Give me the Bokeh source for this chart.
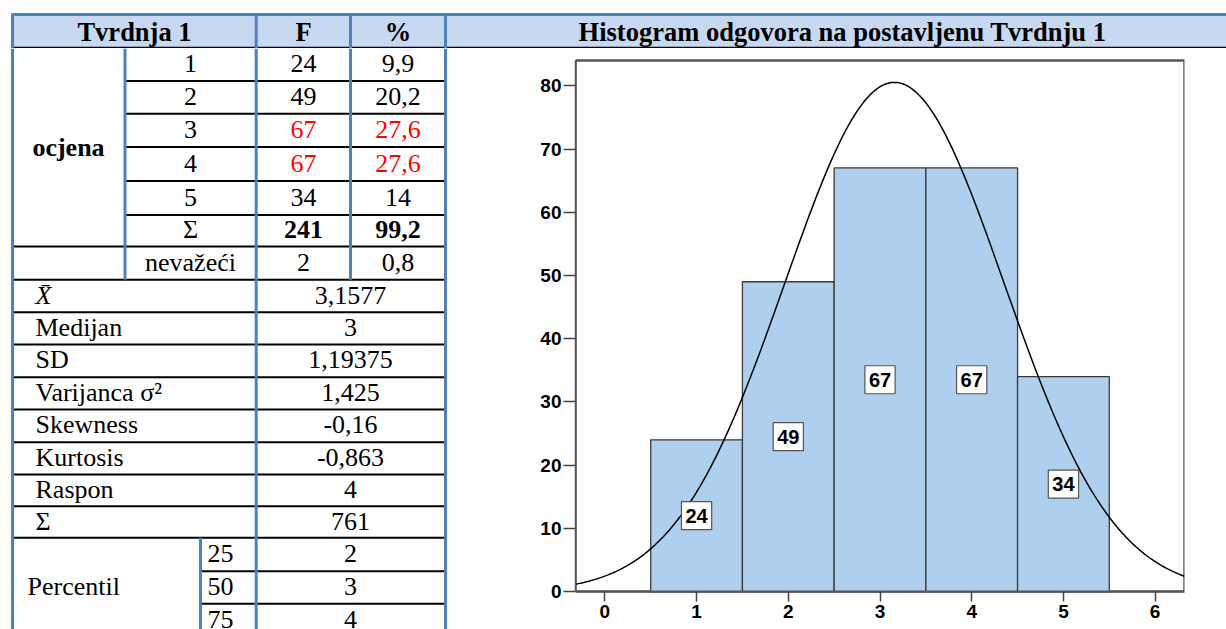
import numpy as np
from bokeh.plotting import figure
from bokeh.models import Range1d, Label, FixedTicker
from bokeh.layouts import column, row
from bokeh.embed import file_html
from bokeh.resources import INLINE
from bokeh.core.properties import value

# ---------------- data ----------------
header_left = ["Tvrdnja 1", "F", "%"]
hist_title = "Histogram odgovora na postavljenu Tvrdnju 1"
group_label = "ocjena"
grades = ["1", "2", "3", "4", "5"]
grade_values = [1, 2, 3, 4, 5]
freq = [24, 49, 67, 67, 34]
pct = ["9,9", "20,2", "27,6", "27,6", "14"]
highlight = [False, False, True, True, False]
sum_label = "Σ"
sum_freq = "241"
sum_pct = "99,2"
invalid_label = "nevažeći"
invalid_freq = "2"
invalid_pct = "0,8"
mean_label = "X̄"
stat_labels = ["Medijan", "SD", "Varijanca σ²", "Skewness", "Kurtosis", "Raspon", "Σ"]
stat_values = ["3,1577", "3", "1,19375", "1,425", "-0,16", "-0,863", "4", "761"]
percentile_label = "Percentil"
percentiles = ["25", "50", "75"]
percentile_values = ["2", "3", "4"]
mean = 3.1577
sd = 1.19375
y_label = "Frekvencija"
y_ticks = [0, 10, 20, 30, 40, 50, 60, 70, 80]
x_ticks = [0, 1, 2, 3, 4, 5, 6]

# ---------------- style ----------------
BLUE = "#4f81bd"
HEAD = "#c6d9f1"
BAR = "#aecfed"
SERIF = value("Liberation Serif")
TFS = value("26px")
HFS = value("26.5px")
W, H = 1226, 629
HEAD_H = 48
SPLIT = 448


def blank(w, h, xr, yr):
    p = figure(width=w, height=h, x_range=Range1d(*xr), y_range=Range1d(*yr),
               output_backend="svg", toolbar_location=None,
               x_axis_type=None, y_axis_type=None, min_border=0)
    p.outline_line_color = None
    p.background_fill_color = "white"
    p.border_fill_color = "white"
    return p


# ---------------- header band ----------------
hdr = blank(W, HEAD_H, (0, W), (HEAD_H, 0))
hdr.quad(left=12, right=W, top=14, bottom=47.7, fill_color=HEAD, line_color=None)
hdr.segment(x0=[12], y0=[14], x1=[W], y1=[14], line_color=BLUE, line_width=3)
hdr.segment(x0=[12], y0=[47.2], x1=[W], y1=[47.2], line_color="black", line_width=2)
vx = [12, 255.7, 350, 445]
hdr.segment(x0=vx, y0=[13] * 4, x1=vx, y1=[48] * 4, line_color=BLUE, line_width=3)
hdr.text(x=[134, 303, 397.5, 842], y=[31.5] * 4,
         text=header_left + [hist_title],
         text_font=SERIF, text_font_size=HFS, text_font_style="bold",
         text_align="center", text_baseline="middle", text_color="black")

# ---------------- table body ----------------
tbl = blank(SPLIT, H - HEAD_H, (0, SPLIT), (H, HEAD_H))
g_edges = [47.7, 80.5, 113.3, 146.5, 180.5, 214.5, 246]
s_edges = [246, 279.3, 311.7, 344, 376.7, 409, 441.7, 474, 505.7, 537.3]
p_edges = [537.3, 570.7, 603.3, 636]

hy_part = g_edges[1:-1]
tbl.segment(x0=[124.5] * len(hy_part), y0=hy_part, x1=[445] * len(hy_part), y1=hy_part,
            line_color="black", line_width=2)
tbl.segment(x0=[12] * len(s_edges), y0=s_edges, x1=[445] * len(s_edges), y1=s_edges,
            line_color="black", line_width=2)
tbl.segment(x0=[200, 200], y0=p_edges[1:3], x1=[445, 445], y1=p_edges[1:3],
            line_color="black", line_width=2)
tbl.segment(x0=[12, 124.5, 255.7, 350, 445, 200],
            y0=[48, 48, 48, 48, 48, 537.3],
            x1=[12, 124.5, 255.7, 350, 445, 200],
            y1=[H, 279.3, H, 279.3, H, H],
            line_color=BLUE, line_width=3)


def mids(e):
    return [(e[i] + e[i + 1]) / 2 - 1 for i in range(len(e) - 1)]


gm = mids(g_edges)
sm = mids(s_edges)
pm = mids(p_edges)

col_f = ["red" if h else "black" for h in highlight]
tbl.text(x=[190] * 7, y=gm + [sm[0]], text=grades + [sum_label, invalid_label],
         text_font=SERIF, text_font_size=TFS, text_align="center", text_baseline="middle",
         text_color="black")
tbl.text(x=[303] * 5 + [397.5] * 5, y=gm[:5] * 2, text=[str(v) for v in freq] + pct,
         text_color=col_f * 2, text_font=SERIF, text_font_size=TFS,
         text_align="center", text_baseline="middle")
tbl.text(x=[303, 397.5], y=[gm[5]] * 2, text=[sum_freq, sum_pct],
         text_font=SERIF, text_font_size=TFS, text_font_style="bold",
         text_align="center", text_baseline="middle", text_color="black")
tbl.text(x=[303, 397.5], y=[sm[0]] * 2, text=[invalid_freq, invalid_pct],
         text_font=SERIF, text_font_size=TFS,
         text_align="center", text_baseline="middle", text_color="black")
tbl.text(x=[68], y=[(g_edges[0] + g_edges[-1]) / 2], text=[group_label],
         text_font=SERIF, text_font_size=TFS, text_font_style="bold",
         text_align="center", text_baseline="middle", text_color="black")
tbl.text(x=[35], y=[sm[1]], text=[mean_label], text_font=SERIF, text_font_size=TFS,
         text_font_style="italic", text_align="left", text_baseline="middle",
         text_color="black")
tbl.text(x=[35] * len(stat_labels), y=sm[2:], text=stat_labels, text_font=SERIF,
         text_font_size=TFS, text_align="left", text_baseline="middle", text_color="black")
tbl.text(x=[350] * len(stat_values), y=sm[1:], text=stat_values, text_font=SERIF,
         text_font_size=TFS, text_align="center", text_baseline="middle", text_color="black")
tbl.text(x=[27], y=[pm[1]], text=[percentile_label], text_font=SERIF, text_font_size=TFS,
         text_align="left", text_baseline="middle", text_color="black")
tbl.text(x=[207] * 3, y=pm, text=percentiles, text_font=SERIF, text_font_size=TFS,
         text_align="left", text_baseline="middle", text_color="black")
tbl.text(x=[350] * 3, y=pm, text=percentile_values, text_font=SERIF, text_font_size=TFS,
         text_align="center", text_baseline="middle", text_color="black")

# ---------------- histogram ----------------
x_lo, x_hi = -0.32, 6.32
y_top = 84
frame_top, frame_bottom = 60, 591          # screen rows of the plot box
ppu = (frame_bottom - frame_top) / y_top
y_start = -(H - frame_bottom) / ppu
y_end = y_top + (frame_top - HEAD_H) / ppu

hist = figure(width=W - SPLIT, height=H - HEAD_H,
              x_range=Range1d(x_lo, x_hi), y_range=Range1d(y_start, y_end),
              output_backend="svg", toolbar_location=None,
              min_border_left=127, min_border_right=42, min_border_top=0, min_border_bottom=0)
hist.grid.visible = False
hist.outline_line_color = None
hist.background_fill_color = "white"
hist.border_fill_color = "white"

# plot box
hist.quad(left=x_lo, right=x_hi, bottom=0, top=y_top, fill_color=None,
          line_color="#555555", line_width=2.5)

gv = np.array(grade_values, dtype=float)
hist.quad(left=gv - 0.5, right=gv + 0.5, bottom=0, top=freq,
          fill_color=BAR, line_color="#3a3a3a", line_width=1.3)

n_total = sum(freq)
xs = np.linspace(x_lo, x_hi, 300)
ys = n_total * np.exp(-0.5 * ((xs - mean) / sd) ** 2) / (sd * np.sqrt(2 * np.pi))
hist.line(xs, ys, line_color="black", line_width=1.5)

for g, f in zip(grade_values, freq):
    hist.add_layout(Label(x=g, y=f / 2, text=str(f), text_align="center",
                          text_baseline="middle", text_font="Liberation Sans",
                          text_font_size="20px", text_font_style="bold",
                          text_color="black",
                          background_fill_color="white", border_line_color="#555555",
                          border_line_width=1.2, padding=dict(x=4, y=7)))

for ax, ticks in ((hist.xaxis, x_ticks), (hist.yaxis, y_ticks)):
    ax.ticker = FixedTicker(ticks=ticks)
    ax.minor_tick_line_color = None
    ax.axis_line_color = "#555555"
    ax.axis_line_width = 1.5
    ax.major_tick_line_color = "#444444"
    ax.major_tick_line_width = 1.5
    ax.major_tick_in = 0
    ax.major_label_text_font = "Liberation Sans"
    ax.major_label_text_font_style = "bold"
    ax.major_label_text_font_size = "19px"
    ax.major_label_text_color = "black"

hist.xaxis.fixed_location = 0
hist.xaxis.major_tick_out = 10
hist.xaxis.major_label_standoff = 3
hist.yaxis.bounds = (0, y_top)
hist.yaxis.major_tick_out = 12
hist.yaxis.major_label_standoff = 2

hist.add_layout(Label(x=x_lo, y=y_top / 2, x_offset=-60, text=y_label, angle=90,
                      angle_units="deg", text_align="center", text_baseline="middle",
                      text_font="Liberation Sans", text_font_style="bold",
                      text_font_size="20px", text_color="black"))

layout = column(hdr, row(tbl, hist, spacing=0), spacing=0)
open("out.html", "w").write(file_html(layout, INLINE))
